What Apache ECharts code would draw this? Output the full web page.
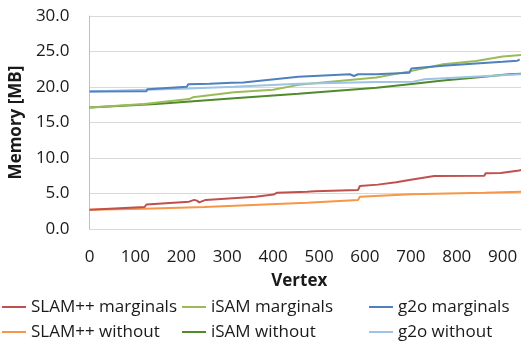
<!DOCTYPE html>
<html>
<head>
<meta charset="utf-8">
<script src="https://cdn.jsdelivr.net/npm/echarts@6/dist/echarts.min.js"></script>
<style>html,body{margin:0;padding:0;background:#fff;}#c{width:522px;height:341px;}</style>
</head>
<body>
<div id="c"></div>
<script>
const seriesNames = ['SLAM++ marginals','iSAM marginals','g2o marginals','SLAM++ without','iSAM without','g2o without'];
const yTicks = [0,5,10,15,20,25,30];
const xTicks = [0,100,200,300,400,500,600,700,800,900];

const slamMargX = [0,120,124,217,228,234,239,253,362,401,408,474,491,495,585,589,628,632,668,672,700,704,751,860,863,896,900,936,940];
const slamMargY = [2.7,3.1,3.45,3.85,4.1,4.0,3.75,4.1,4.55,4.85,5.1,5.25,5.3,5.4,5.5,6.05,6.25,6.35,6.6,6.75,6.95,7.15,7.45,7.5,7.85,7.9,8.15,8.25,8.3];
const slamWithX = [0,120,250,474,585,589,700,860,940];
const slamWithY = [2.7,2.85,3.1,3.7,4.1,4.55,4.9,5.1,5.25];
const isamMargX = [0,119,217,225,315,400,404,455,625,697,770,842,900,940];
const isamMargY = [17.1,17.6,18.3,18.55,19.25,19.6,19.8,20.3,21.35,22.2,23.2,23.65,24.3,24.5];
const isamWithX = [0,145,315,455,625,697,770,842,914,940];
const isamWithY = [17.1,17.6,18.4,19.05,19.9,20.4,20.9,21.35,21.8,21.85];
const g2oMargX = [0,124,126,212,215,262,265,310,335,338,455,567,570,576,585,625,697,701,770,842,900,932,937];
const g2oMargY = [19.35,19.4,19.7,20.05,20.4,20.45,20.6,20.6,20.65,20.9,21.45,21.8,21.55,21.55,21.8,21.8,22.0,22.6,23.0,23.3,23.55,23.7,23.9];
const g2oWithX = [0,217,315,455,625,705,708,730,940];
const g2oWithY = [19.35,19.8,20.05,20.45,20.7,20.75,21.0,21.1,21.8];

const colors = {
  'SLAM++ marginals':'#C0504D','SLAM++ without':'#F79646',
  'iSAM marginals':'#9BBB59','iSAM without':'#4F8A2B',
  'g2o marginals':'#4F81BD','g2o without':'#9DC3E6'
};
const seriesData = {
  'SLAM++ marginals':[slamMargX,slamMargY],'SLAM++ without':[slamWithX,slamWithY],
  'iSAM marginals':[isamMargX,isamMargY],'iSAM without':[isamWithX,isamWithY],
  'g2o marginals':[g2oMargX,g2oMargY],'g2o without':[g2oWithX,g2oWithY]
};
const drawOrder = ['SLAM++ without','SLAM++ marginals','iSAM without','iSAM marginals','g2o without','g2o marginals'];

const font = 'Open Sans';
const legendPos = {
  'SLAM++ marginals':[2,297],'iSAM marginals':[182,297],'g2o marginals':[369,297],
  'SLAM++ without':[2,322],'iSAM without':[182,322],'g2o without':[369,322]
};
const legends = seriesNames.map(n => ({
  data:[n], left:legendPos[n][0], top:legendPos[n][1], padding:0,
  icon:'rect', itemWidth:24, itemHeight:2,
  textStyle:{fontFamily:font, fontSize:17, color:'#1a1a1a', lineHeight:20},
  selectedMode:false
}));

const chart = echarts.init(document.getElementById('c'), null, {renderer:'canvas'});
chart.setOption({
  animation:false,
  backgroundColor:'#fff',
  grid:{left:87, right:1, top:16, bottom:112, containLabel:false},
  legend:legends,
  xAxis:{
    type:'value', min:0, max:940, interval:100,
    name:'Vertex', nameLocation:'middle', nameGap:44,
    nameTextStyle:{fontFamily:font, fontSize:17, fontWeight:'bold', color:'#1a1a1a', padding:[0,12,0,0]},
    axisLine:{show:true, lineStyle:{color:'#D9D9D9', width:1}},
    axisTick:{show:false},
    splitLine:{show:false},
    axisLabel:{fontFamily:font, fontSize:17, color:'#1a1a1a', margin:20, showMaxLabel:false,
      formatter:v => xTicks.indexOf(v) >= 0 ? String(v) : ''}
  },
  yAxis:{
    type:'value', min:0, max:30, interval:5,
    name:'Memory [MB]', nameLocation:'middle', nameGap:57, nameRotate:90,
    nameTextStyle:{fontFamily:font, fontSize:17, fontWeight:'bold', color:'#1a1a1a'},
    axisLine:{show:true, lineStyle:{color:'#BFBFBF', width:1}},
    axisTick:{show:false},
    splitLine:{show:true, lineStyle:{color:'#D9D9D9', width:1}},
    axisLabel:{fontFamily:font, fontSize:17, color:'#1a1a1a', margin:20,
      formatter:v => yTicks.indexOf(v) >= 0 ? v.toFixed(1) : ''}
  },
  series:drawOrder.map(n => ({
    name:n, type:'line', symbol:'none', showSymbol:false,
    data:seriesData[n][0].map((x,i)=>[x, seriesData[n][1][i]]),
    lineStyle:{color:colors[n], width:2},
    itemStyle:{color:colors[n]}
  }))
});
</script>
</body>
</html>
